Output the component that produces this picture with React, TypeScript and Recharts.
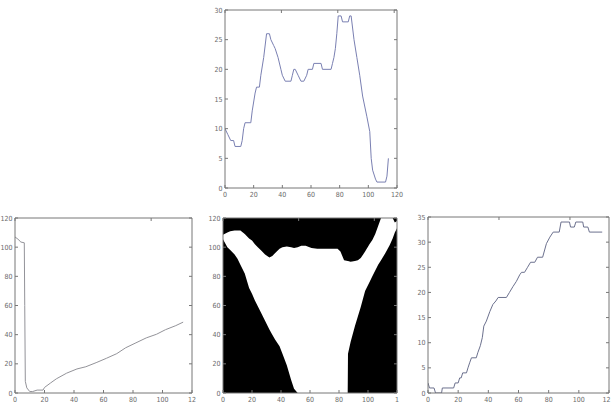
import React from "react";
import { LineChart, Line, XAxis, YAxis, ComposedChart, Area, CartesianGrid } from "recharts";

// shared x ticks
const xTicks = [0, 20, 40, 60, 80, 100, 120];

// top plot
const topX = [0,2,4,6,7,11,12,13,14,18,19,21,22,24,25,27,29,31,32,34,35,37,39,40,42,46,47,48,49,51,53,55,57,58,61,62,67,68,74,75,76,77,78,79,81,82,86,87,88,90,92,94,96,99,101,102,103,105,106,112,113,114];
const topY = [10,9,8,8,7,7,8,10,11,11,13,16,17,17,19,22,26,26,25,24,23.5,22,20,19,18,18,19,20,20,19,18,18,19,20,20,21,21,20,20,21,22,23.5,26,29,29,28,28,29,29,25,22,19,15.5,12,9.5,5,3,1.5,1,1,2,5];
const topYTicks = [0, 5, 10, 15, 20, 25, 30];
const topXLabels = ["0", "20", "40", "60", "80", "100", "120"];
const topYLabels = ["0", "5", "10", "15", "20", "25", "30"];

// bottom-left plot
const leftX = [0,2,4,6.3,6.6,7,8,10,12,15,19,20,24,28,35,42,48,55,62,69,75,82,89,96,102,109,114];
const leftY = [107,105.5,103.5,103,60,8,3.5,1,1,2,2,3.8,6.8,9.7,13.6,16.5,18,20.8,23.8,27,31,34.4,37.8,40.3,43.4,46.2,48.6];
const leftYTicks = [0, 20, 40, 60, 80, 100, 120];
const leftXLabels = ["0", "20", "40", "60", "80", "100", "12"];
const leftYLabels = ["0", "20", "40", "60", "80", "100", "120"];

// bottom-center binary image: white band per column
const maskX = [0,3,5,8,10,12,15,18,20,22,24,26,29,32,34,36,39,41,44,47,49,51.5,54,57,61,65,72,79,81,83.5,86,86.2,88,91,93,95,98,101,103,105,107,109,112,115,117,118.5,120];
const maskLow = [105.5,100,98,95,92,88,82,72,68,63.5,59.5,55.5,49.5,43.5,40,36.5,32,27,19,9,3,0,0,0,0,0,0,0,0,0,0,27,35,46,52.5,59,70,76,80,84,88,91,96,101.5,106,110,113];
const maskHigh = [108.5,110,111,111.5,111.5,111.5,109,106,104.5,102,100,98,95,93,94,96,99,100,100.5,100,99.5,100,101,101,99.5,99,99,99,97,91,90.5,90.5,90,90.5,91,92.5,97,102,105,109,114.5,120,120,120,120,117,118];
const maskYTicks = [0, 20, 40, 60, 80, 100, 120];
const maskXLabels = ["0", "20", "40", "60", "80", "100", "1"];
const maskYLabels = ["0", "20", "40", "60", "80", "100", "120"];

// bottom-right plot
const rightX = [0,1,4,5,9,9.5,17,18,20,21,22,23,25.5,26.5,27.6,28.8,32,33,34.7,36,37,38.7,41,43,45,46.5,52,54,56.4,58.6,60.8,62,64,66,68,70.8,72.6,76,78.5,80.8,83,87,88.2,93.8,94.5,97,98,102.6,103.2,106,107,115.5];
const rightY = [2,1,1,0,0,1,1,2,2,3,3,4,4,5,6,7,7,8,9.4,11,13.3,14.3,16.2,17.6,18.3,19,19,20,21.2,22.2,23.5,24,24,25,26,26,27,27,29.7,31,32,32,34,34,33,33,34,34,33,33,32,32];
const rightYTicks = [0, 5, 10, 15, 20, 25, 30, 35];
const rightXLabels = ["0", "20", "40", "60", "80", "100", "12"];
const rightYLabels = ["0", "5", "10", "15", "20", "25", "30", "35"];

const topRows = topX.map((x, i) => ({ x, y: topY[i] }));
const leftRows = leftX.map((x, i) => ({ x, y: leftY[i] }));
const maskRows = maskX.map((x, i) => ({ x, band: [maskLow[i], maskHigh[i]] }));
const rightRows = rightX.map((x, i) => ({ x, y: rightY[i] }));

const AXIS = "#777777";
const FONT_FAMILY = "'DejaVu Sans Condensed', 'Liberation Sans Narrow', 'DejaVu Sans', sans-serif";
const TEXT_FILL = "#6a6a6a";

const BottomTick = (props: any) => {
  const { x, y, payload, labels, ticks, maxX } = props;
  const label = labels[ticks.indexOf(payload.value)];
  let anchor = "middle";
  let tx = x;
  if (maxX !== undefined && x + 5 > maxX) {
    anchor = "end";
    tx = maxX - 0.5;
  }
  return (
    <g>
      <line x1={x} y1={y} x2={x} y2={y - 3} stroke={AXIS} strokeWidth={1} />
      <text x={tx} y={y + 8.5} textAnchor={anchor} fontFamily={FONT_FAMILY} fontSize={7} fill={TEXT_FILL}>{label}</text>
    </g>
  );
};

const LeftTick = (props: any) => {
  const { x, y, payload, labels, ticks } = props;
  const label = labels[ticks.indexOf(payload.value)];
  return (
    <g>
      <line x1={x} y1={y} x2={x + 3} y2={y} stroke={AXIS} strokeWidth={1} />
      <text x={x - 2.5} y={y + 2.5} textAnchor="end" fontFamily={FONT_FAMILY} fontSize={7} fill={TEXT_FILL}>{label}</text>
    </g>
  );
};

const TopTick = (props: any) => {
  const { x, y } = props;
  return <line x1={x} y1={y} x2={x} y2={y + 3} stroke={AXIS} strokeWidth={1} />;
};

const RightTick = (props: any) => {
  const { x, y } = props;
  return <line x1={x - 3} y1={y} x2={x} y2={y} stroke={AXIS} strokeWidth={1} />;
};

function frame(xLabels: string[], yTicks: number[], yLabels: string[], yMax: number, yWidth: number, maxX?: number) {
  const line = { stroke: AXIS, strokeWidth: 1 };
  return [
    <XAxis key="xb" xAxisId="a" type="number" dataKey="x" domain={[0, 120]} ticks={xTicks} interval={0}
      tickSize={0} tickMargin={0} height={12} axisLine={line} tickLine={false}
      tick={<BottomTick labels={xLabels} ticks={xTicks} maxX={maxX} />} allowDataOverflow />,
    <XAxis key="xt" xAxisId="b" orientation="top" type="number" domain={[0, 120]} ticks={xTicks} interval={0}
      tickSize={0} tickMargin={0} height={1} axisLine={line} tickLine={false}
      tick={<TopTick />} allowDataOverflow />,
    <YAxis key="yl" yAxisId="a" type="number" domain={[0, yMax]} ticks={yTicks} interval={0}
      tickSize={0} tickMargin={0} width={yWidth} axisLine={line} tickLine={false}
      tick={<LeftTick labels={yLabels} ticks={yTicks} />} allowDataOverflow />,
    <YAxis key="yr" yAxisId="b" orientation="right" type="number" domain={[0, yMax]} ticks={yTicks} interval={0}
      tickSize={0} tickMargin={0} width={1} axisLine={line} tickLine={false}
      tick={<RightTick />} allowDataOverflow />,
  ];
}

const pos = (left: number, top: number): React.CSSProperties => ({ position: "absolute", left, top });

export default function App() {
  return (
    <div style={{ position: "absolute", left: 0, top: 0, width: 612, height: 405, background: "#fff", overflow: "hidden" }}>
      <div style={pos(195, 0)}>
        <LineChart width={215} height={200} data={topRows} margin={{ top: 9, right: 12, bottom: 0, left: 0 }}>
          <Line xAxisId="a" yAxisId="a" type="linear" dataKey="y" stroke="#7a80b2" strokeWidth={1} dot={false} isAnimationActive={false} />
          {frame(topXLabels, topYTicks, topYLabels, 30, 30)}
        </LineChart>
      </div>
      <div style={pos(0, 205)}>
        <LineChart width={205} height={200} data={leftRows} margin={{ top: 12, right: 12, bottom: 0, left: 0 }}>
          <Line xAxisId="a" yAxisId="a" type="linear" dataKey="y" stroke="#939399" strokeWidth={1} dot={false} isAnimationActive={false} />
          {frame(leftXLabels, leftYTicks, leftYLabels, 120, 15)}
        </LineChart>
      </div>
      <div style={pos(205, 205)}>
        <ComposedChart width={205} height={200} data={maskRows} margin={{ top: 12, right: 12, bottom: 0, left: 0 }}>
          <CartesianGrid xAxisId="a" yAxisId="a" fill="#000" fillOpacity={1} horizontal={false} vertical={false} stroke="none" />
          <Area xAxisId="a" yAxisId="a" type="linear" dataKey="band" fill="#ffffff" fillOpacity={1} stroke="none" isAnimationActive={false} />
          {frame(maskXLabels, maskYTicks, maskYLabels, 120, 18)}
        </ComposedChart>
      </div>
      <div style={pos(410, 205)}>
        <LineChart width={202} height={200} data={rightRows} margin={{ top: 11, right: 2, bottom: 0, left: 0 }}>
          <Line xAxisId="a" yAxisId="a" type="linear" dataKey="y" stroke="#6c718e" strokeWidth={1} dot={false} isAnimationActive={false} />
          {frame(rightXLabels, rightYTicks, rightYLabels, 35, 18, 201)}
        </LineChart>
      </div>
    </div>
  );
}
